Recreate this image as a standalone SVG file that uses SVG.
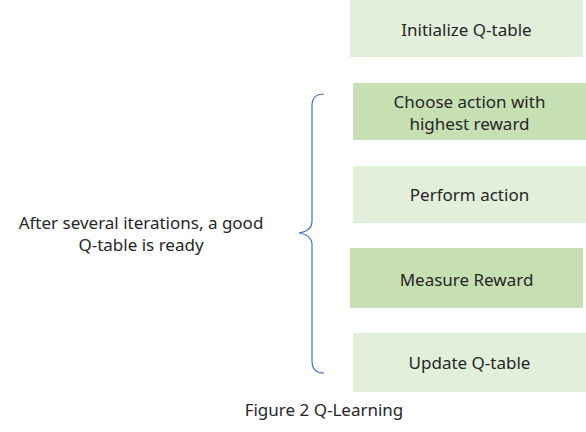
<svg xmlns="http://www.w3.org/2000/svg" width="586" height="432" viewBox="0 0 586 432">
<style>
.light{fill:#E2EFDA}
.dark{fill:#C6E0B4}
text{font-family:"Noto Sans","Open Sans","DejaVu Sans",sans-serif;font-size:17px;fill:#262626;text-anchor:middle}
.brace{fill:none;stroke:#4472C4;stroke-width:1.2}
</style>
<rect width="586" height="432" fill="#FFFFFF"/>
<g id="init"><rect class="light" x="350" y="0" width="233" height="57"/><text x="466.5" y="36">Initialize Q-table</text></g>
<g id="choose"><rect class="dark" x="353" y="83" width="233" height="57"/><text x="469.5" y="108">Choose action with</text><text x="469.5" y="130">highest reward</text></g>
<g id="perform"><rect class="light" x="353" y="166" width="233" height="57"/><text x="469.5" y="201">Perform action</text></g>
<g id="measure"><rect class="dark" x="350" y="248" width="233" height="60"/><text x="466.5" y="286">Measure Reward</text></g>
<g id="update"><rect class="light" x="353" y="333" width="233" height="59"/><text x="469.5" y="369">Update Q-table</text></g>
<g id="brace"><path class="brace" d="M324,94 Q312,94 312,106 L312,221 Q312,231 299,233 Q312,235 312,245 L312,361 Q312,373 324,373"/></g>
<g id="note"><text x="141" y="229">After several iterations, a good</text><text x="141" y="251">Q-table is ready</text></g>
<g id="caption"><text x="324" y="416">Figure 2 Q-Learning</text></g>
</svg>
